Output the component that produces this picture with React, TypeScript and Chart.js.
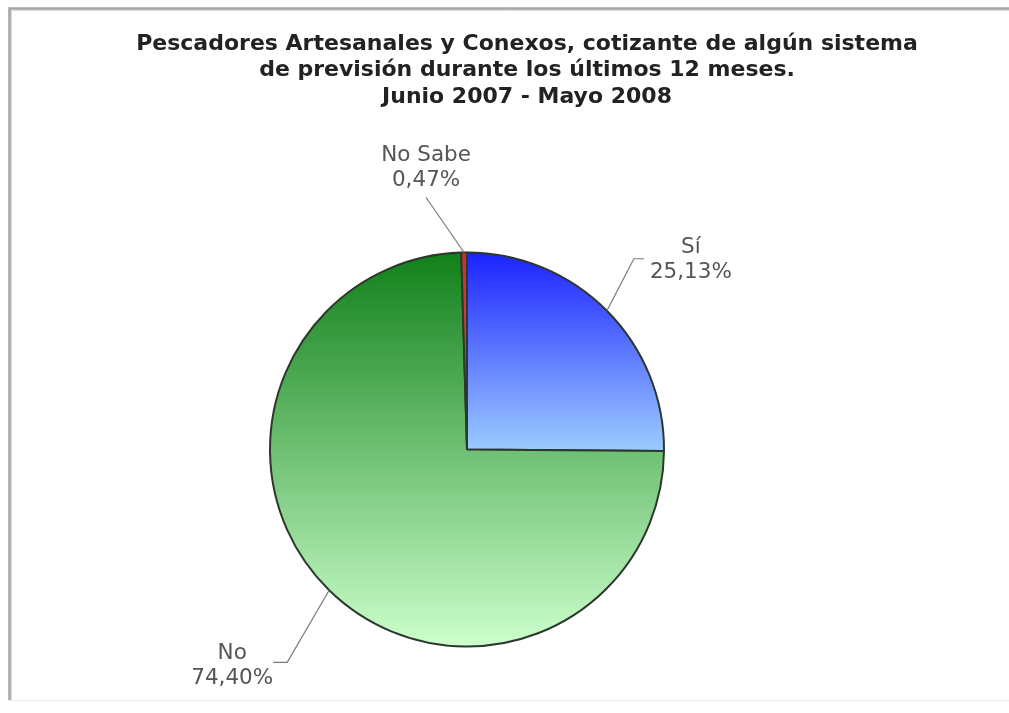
import React, { useEffect, useRef } from "react";
import { Chart, registerables } from "chart.js";

Chart.register(...registerables);

// Survey categories and their shares (%)
const categories = ["Sí", "No", "No Sabe"];
const shares = [25.13, 74.4, 0.47];

const titleLines = [
  "Pescadores Artesanales y Conexos, cotizante de algún sistema",
  "de previsión durante los últimos 12 meses.",
  "Junio 2007 - Mayo 2008",
];

// Vertical gradient stops for each slice (top colour, bottom colour)
const sliceTop = ["#1c22ff", "#11801a", "#c43030"];
const sliceBottom = ["#9cccff", "#ccffcc", "#e05050"];

// Leader line geometry per slice: elbow and end offsets from the arc anchor,
// then the centre of the first text line relative to the line end.
const leaders = [
  { ex: 27, ey: -52, lx: 37, ly: -52, tx: 47, ty: -11 },
  { ex: -42, ey: 72, lx: -56, ly: 72, tx: -41, ty: -9 },
  { ex: -38, ey: -55, lx: -38, ly: -55, tx: 0, ty: -42 },
];

const W = 1009;
const H = 713;
const PIE_R = 197;

function fmt(v: number) {
  return v.toFixed(2).replace(".", ",") + "%";
}

// Vertical extent of a pie sector; angles clockwise from 12 o'clock
function sectorYRange(cy: number, r: number, a0: number, a1: number) {
  const ys = [cy, cy - r * Math.cos(a0), cy - r * Math.cos(a1)];
  const inRange = (a: number) => a >= a0 && a <= a1;
  if (inRange(0) || inRange(2 * Math.PI)) ys.push(cy - r);
  if (inRange(Math.PI)) ys.push(cy + r);
  return [Math.min(...ys), Math.max(...ys)];
}

const framePlugin = {
  id: "frame",
  beforeDraw(chart: any) {
    const c = chart.ctx;
    c.save();
    c.fillStyle = "#ffffff";
    c.fillRect(0, 0, W, H);
    c.strokeStyle = "#ececec";
    c.lineWidth = 1;
    c.beginPath();
    c.moveTo(9, 700.5);
    c.lineTo(W, 700.5);
    c.stroke();
    c.strokeStyle = "#a4a4a4";
    c.lineWidth = 2.5;
    c.beginPath();
    c.moveTo(9.5, 700);
    c.lineTo(9.5, 8.5);
    c.lineTo(W + 2, 8.5);
    c.stroke();
    c.strokeStyle = "#d8d8d8";
    c.lineWidth = 1;
    c.beginPath();
    c.moveTo(11.5, 700);
    c.lineTo(11.5, 10.5);
    c.lineTo(W + 2, 10.5);
    c.stroke();
    c.restore();
  },
};

const labelPlugin = {
  id: "sliceLabels",
  afterDraw(chart: any) {
    const c = chart.ctx;
    c.save();
    // title
    c.fillStyle = "#222222";
    c.font = "bold 22px 'DejaVu Sans'";
    c.textAlign = "center";
    c.textBaseline = "middle";
    titleLines.forEach((t, i) => c.fillText(t, 527, 44 + i * 26.5));

    const meta = chart.getDatasetMeta(0);
    c.font = "21.5px 'DejaVu Sans'";
    meta.data.forEach((arc: any, i: number) => {
      const p = arc.getProps(["x", "y", "startAngle", "endAngle", "outerRadius"], true);
      const mid = (p.startAngle + p.endAngle) / 2;
      const ax = p.x + Math.cos(mid) * p.outerRadius;
      const ay = p.y + Math.sin(mid) * p.outerRadius;
      const L = leaders[i];
      c.strokeStyle = "#7a7a7a";
      c.lineWidth = 1.2;
      c.beginPath();
      c.moveTo(ax, ay);
      c.lineTo(ax + L.ex, ay + L.ey);
      c.lineTo(ax + L.lx, ay + L.ly);
      c.stroke();
      const tx = ax + L.lx + L.tx;
      const ty = ay + L.ly + L.ty;
      c.fillStyle = "#555555";
      c.fillText(categories[i], tx, ty);
      c.fillText(fmt(shares[i]), tx, ty + 25);
    });
    c.restore();
  },
};

export default function App() {
  const ref = useRef<HTMLCanvasElement | null>(null);

  useEffect(() => {
    if (!ref.current) return;
    const total = shares.reduce((a, b) => a + b, 0);
    const starts: number[] = [];
    let acc = 0;
    shares.forEach((v) => {
      starts.push(acc);
      acc += (v / total) * Math.PI * 2;
    });

    const chart = new Chart(ref.current, {
      type: "pie",
      data: {
        labels: categories,
        datasets: [
          {
            data: shares,
            radius: PIE_R,
            borderColor: "#2c382c",
            borderWidth: 2,
            backgroundColor: (ctx: any) => {
              const i = ctx.dataIndex;
              const area = ctx.chart.chartArea;
              if (!area || i === undefined) return sliceTop[i ?? 0];
              const cy = (area.top + area.bottom) / 2;
              const a0 = starts[i];
              const a1 = a0 + (shares[i] / total) * Math.PI * 2;
              const [y0, y1] = sectorYRange(cy, PIE_R, a0, a1);
              const g = ctx.chart.ctx.createLinearGradient(0, y0, 0, y1);
              g.addColorStop(0, sliceTop[i]);
              g.addColorStop(1, sliceBottom[i]);
              return g;
            },
          } as any,
        ],
      },
      options: {
        responsive: false,
        animation: false,
        events: [],
        layout: { padding: { left: 270, right: 345, top: 252, bottom: 66 } },
        plugins: {
          legend: { display: false },
          tooltip: { enabled: false },
          title: { display: false },
        },
      },
      plugins: [framePlugin, labelPlugin],
    });
    return () => chart.destroy();
  }, []);

  return (
    <div style={{ position: "fixed", left: 0, top: 0, width: W, height: H, background: "#fff" }}>
      <canvas ref={ref} width={W} height={H} style={{ display: "block" }} />
    </div>
  );
}
